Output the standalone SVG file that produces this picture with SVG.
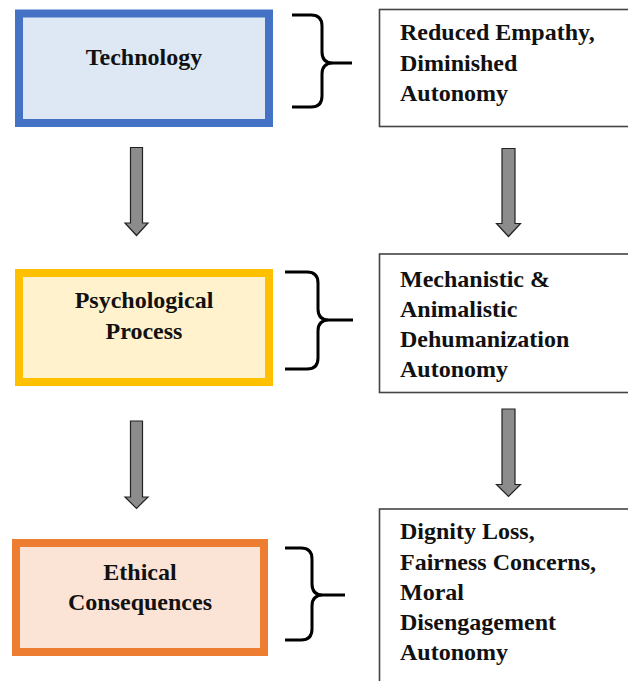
<svg xmlns="http://www.w3.org/2000/svg" width="628" height="681" viewBox="0 0 628 681">
  <style>
    .lbl { font-family: "Liberation Serif", "Times New Roman", serif; font-weight: bold; font-size: 24px; fill: #111; }
    .ctr { text-anchor: middle; }
    .out { fill: #fff; stroke: #444; stroke-width: 1.6; }
    .brace { fill: none; stroke: #000; stroke-width: 3; stroke-linejoin: round; }
    .arrow { fill: #8c8c8c; stroke: #222; stroke-width: 1.2; stroke-linejoin: miter; }
  </style>
  <rect width="628" height="681" fill="#fff"/>

  <!-- stage boxes -->
  <g id="technology">
    <rect x="19" y="13.5" width="250" height="109.5" fill="#DEE8F4" stroke="#4472C4" stroke-width="8"/>
    <text class="lbl ctr" x="144" y="65">Technology</text>
  </g>
  <g id="psychological-process">
    <rect x="19" y="273" width="250" height="109" fill="#FFF2CC" stroke="#FFC000" stroke-width="8"/>
    <text class="lbl ctr" x="144" y="308">Psychological</text>
    <text class="lbl ctr" x="144" y="339">Process</text>
  </g>
  <g id="ethical-consequences">
    <rect x="16" y="543" width="248" height="109" fill="#FBE4D6" stroke="#ED7D31" stroke-width="8"/>
    <text class="lbl ctr" x="140" y="580">Ethical</text>
    <text class="lbl ctr" x="140" y="610">Consequences</text>
  </g>

  <!-- outcome boxes -->
  <g id="empathy">
    <rect class="out" x="379.5" y="9.5" width="260" height="117" stroke="#555" stroke-width="2"/>
    <text class="lbl" x="400" y="40">Reduced Empathy,</text>
    <text class="lbl" x="400" y="71">Diminished</text>
    <text class="lbl" x="400" y="101">Autonomy</text>
  </g>
  <g id="dehumanization">
    <rect class="out" x="379.5" y="254" width="260" height="138.5"/>
    <text class="lbl" x="400" y="287">Mechanistic &amp;</text>
    <text class="lbl" x="400" y="317">Animalistic</text>
    <text class="lbl" x="400" y="347">Dehumanization</text>
    <text class="lbl" x="400" y="377">Autonomy</text>
  </g>
  <g id="dignity">
    <rect class="out" x="379.5" y="509" width="260" height="190"/>
    <text class="lbl" x="400" y="539">Dignity Loss,</text>
    <text class="lbl" x="400" y="570">Fairness Concerns,</text>
    <text class="lbl" x="400" y="600">Moral</text>
    <text class="lbl" x="400" y="630">Disengagement</text>
    <text class="lbl" x="400" y="660">Autonomy</text>
  </g>

  <!-- connectors: braces and block arrows -->
  <g id="connectors">
    <path class="brace" d="M292,15 H311 Q322,15 322,26 V52 Q322,63 333,63 H352 M333,63 Q322,63 322,74 V96 Q322,107 311,107 H292"/>
    <path class="brace" d="M285,272 H307 Q318,272 318,283 V309 Q318,320 329,320 H353 M329,320 Q318,320 318,331 V358 Q318,369 307,369 H285"/>
    <path class="brace" d="M285,548 H301 Q312,548 312,559 V584 Q312,595 323,595 H345 M323,595 Q312,595 312,606 V629 Q312,640 301,640 H285"/>

    <path class="arrow" d="M130.5,147.5 H142.5 V223 H148 L136.5,235.5 L125,223 H130.5 Z"/>
    <path class="arrow" d="M502,148.5 H515 V223.5 H520.5 L508.5,236.5 L496.5,223.5 H502 Z"/>
    <path class="arrow" d="M130.5,421 H142.5 V497 H148 L136.5,508.5 L125,497 H130.5 Z"/>
    <path class="arrow" d="M502,409 H515 V484.5 H520.5 L508.5,496.5 L496.5,484.5 H502 Z"/>
  </g>
</svg>
